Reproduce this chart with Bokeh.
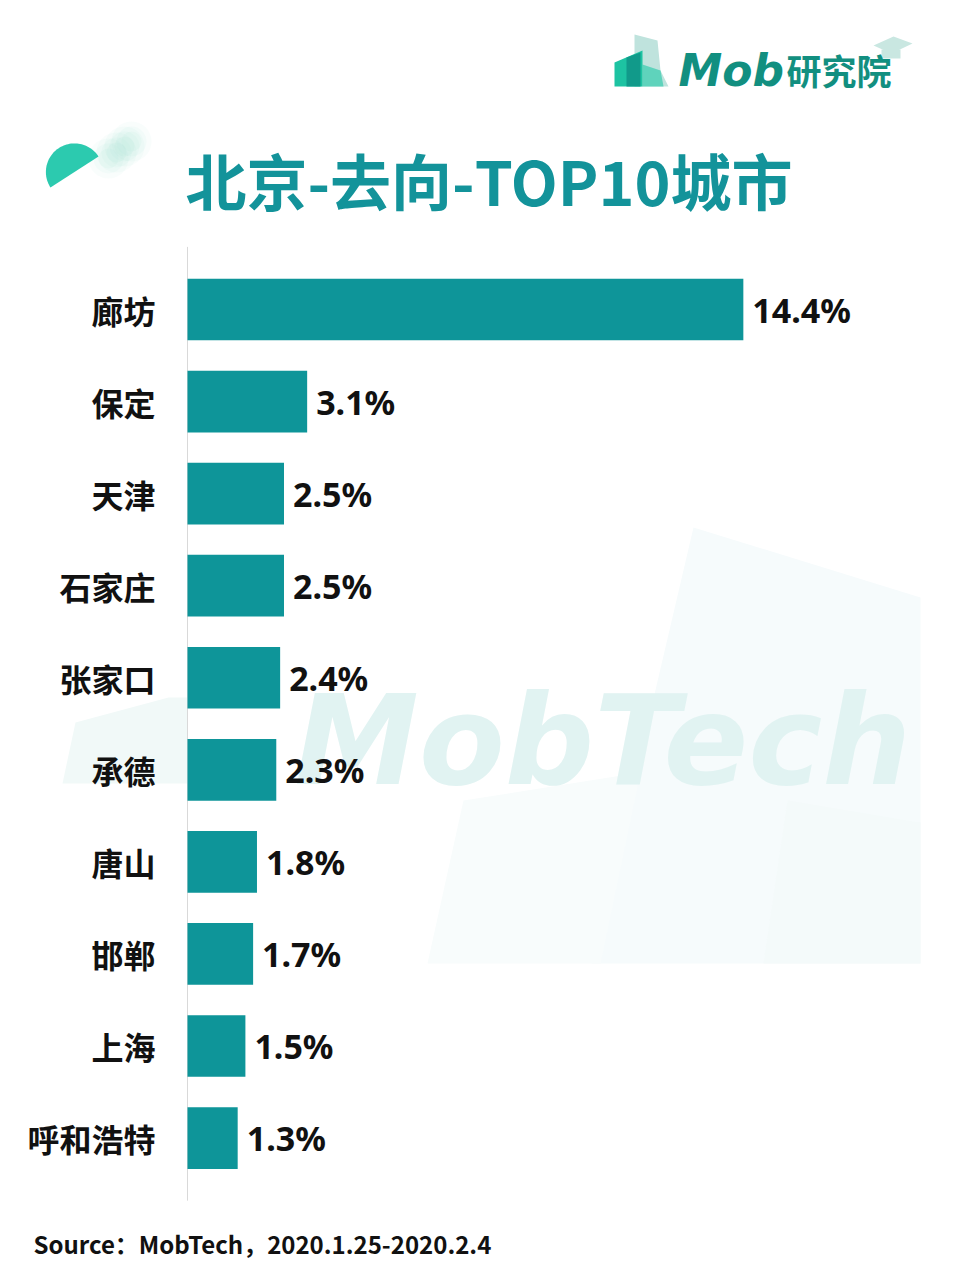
import numpy as np
from bokeh.plotting import figure
from bokeh.models import Range1d
from bokeh.core.properties import value
from bokeh.embed import file_html
from bokeh.resources import INLINE

# ---------------- data ----------------
cities = ["廊坊", "保定", "天津", "石家庄", "张家口", "承德", "唐山", "邯郸", "上海", "呼和浩特"]
shares = [14.4, 3.1, 2.5, 2.5, 2.4, 2.3, 1.8, 1.7, 1.5, 1.3]
share_labels = ["14.4%", "3.1%", "2.5%", "2.5%", "2.4%", "2.3%", "1.8%", "1.7%", "1.5%", "1.3%"]
title_text = "北京-去向-TOP10城市"
source_text = "Source：MobTech，2020.1.25-2020.2.4"

W, H = 957, 1264
K = 38.6          # px per percent
AX = 187          # canvas x of value 0
Y0 = 309          # canvas y of first bar centre
DY = 92.06        # px per category

p = figure(width=W, height=H, output_backend="svg", toolbar_location=None,
           x_range=Range1d(-AX / K, (W - AX) / K),
           y_range=Range1d((H - Y0) / DY, -Y0 / DY),
           x_axis_location=None, y_axis_location=None, min_border=0)
p.grid.visible = False
p.outline_line_color = None
p.background_fill_color = "white"
p.border_fill_color = "white"
p.extra_x_ranges = {"px": Range1d(0, W)}
p.extra_y_ranges = {"px": Range1d(H, 0)}

PX = dict(x_range_name="px", y_range_name="px")

def pg(pts):
    xs = [a for a, b in pts]
    ys = [b for a, b in pts]
    return xs, ys

# ---------------- background decoration ----------------
for pts, col in [
    ([(693, 527), (920, 597), (920, 963), (591, 963)], "#F6FBFC"),
    ([(463, 800), (640, 772), (600, 963), (427, 963)], "#F8FCFC"),
    ([(787, 800), (920, 822), (920, 963), (763, 963)], "#F4FAFA"),
    ([(62, 783), (75, 722), (168, 697), (187, 697), (187, 783)], "#F1F9F8"),
]:
    xs, ys = pg(pts)
    p.patch(xs, ys, fill_color=col, line_color=None, **PX)

p.text(x=[294], y=[740], text=["MobTech"], text_font=value("DejaVu Sans"),
       text_font_style="bold italic", text_font_size="125px", text_color="#E1F3F2",
       text_align="left", text_baseline="middle", **PX)

# ---------------- logo top right ----------------
for pts, col in [
    ([(634, 34), (657, 40), (660, 70), (668, 86), (634, 86)], "#BFE3DD"),
    ([(642, 64), (660, 70), (663, 86), (642, 86)], "#5FD3BC"),
    ([(614, 62), (642, 50), (642, 86), (614, 86)], "#1DC3A2"),
    ([(626, 57), (640, 52), (640, 86), (626, 86)], "#119A8A"),
    ([(873, 45), (893, 36), (912, 43), (891, 53)], "#C9E7E1"),
    ([(881, 49), (881, 58), (900, 58), (900, 49)], "#C9E7E1"),
]:
    xs, ys = pg(pts)
    p.patch(xs, ys, fill_color=col, line_color=None, **PX)

p.text(x=[678], y=[70], text=["Mob"], text_font=value("DejaVu Sans"),
       text_font_style="bold italic", text_font_size="44px", text_color="#128F80",
       text_align="left", text_baseline="middle", **PX)
p.text(x=[786], y=[69], text=["研究院"], text_font=value("Noto Sans CJK SC"),
       text_font_style="bold", text_font_size="35px", text_color="#128F80",
       text_align="left", text_baseline="middle", **PX)

# ---------------- leaf decoration ----------------
for cx, cy in [(108, 158), (116, 152), (124, 146), (131, 141)]:
    for r, a in [(20, 0.05), (15, 0.06), (10, 0.07)]:
        p.circle(x=[cx], y=[cy], radius=r, fill_color="#8ADFCD", fill_alpha=a,
                 line_color=None, **PX)
c = np.array([74.0, 171.5])
d = np.array([48.0, -31.0]); d /= np.linalg.norm(d)
n = np.array([-31.0, -48.0]); n /= np.linalg.norm(n)
t = np.linspace(0, np.pi, 60)
pts = c[None, :] + 28.6 * (np.cos(t)[:, None] * d[None, :] + np.sin(t)[:, None] * n[None, :])
p.patch(pts[:, 0], pts[:, 1], fill_color="#2CCAAF", line_color=None, **PX)

# ---------------- title ----------------
p.text(x=[185], y=[179], text=[title_text], text_font=value("Noto Sans CJK SC"),
       text_font_style="bold", text_font_size="61px", text_color="#13939A",
       text_align="left", text_baseline="middle", **PX)

# ---------------- bars ----------------
ys = list(range(len(cities)))
p.segment(x0=[0], y0=[-0.68], x1=[0], y1=[len(cities) - 0.32], line_color="#D9D9D9", line_width=1)
p.hbar(y=ys, right=shares, left=0, height=0.67, fill_color="#0E9599", line_color=None)
p.text(x=[0] * len(cities), y=ys, text=cities, x_offset=-32, text_align="right",
       text_baseline="middle", text_font=value("Noto Sans CJK SC"), text_font_style="bold",
       text_font_size="32px", text_color="#111111")
p.text(x=shares, y=ys, text=share_labels, x_offset=9, text_align="left",
       text_baseline="middle", text_font=value("Noto Sans"), text_font_style="bold",
       text_font_size="34px", text_color="#111111")

# ---------------- source ----------------
p.text(x=[33], y=[1243], text=[source_text], text_font=value("Noto Sans CJK SC"),
       text_font_style="bold", text_font_size="24px", text_color="#111111",
       text_align="left", text_baseline="middle", **PX)

open("out.html", "w").write(file_html(p, INLINE))
